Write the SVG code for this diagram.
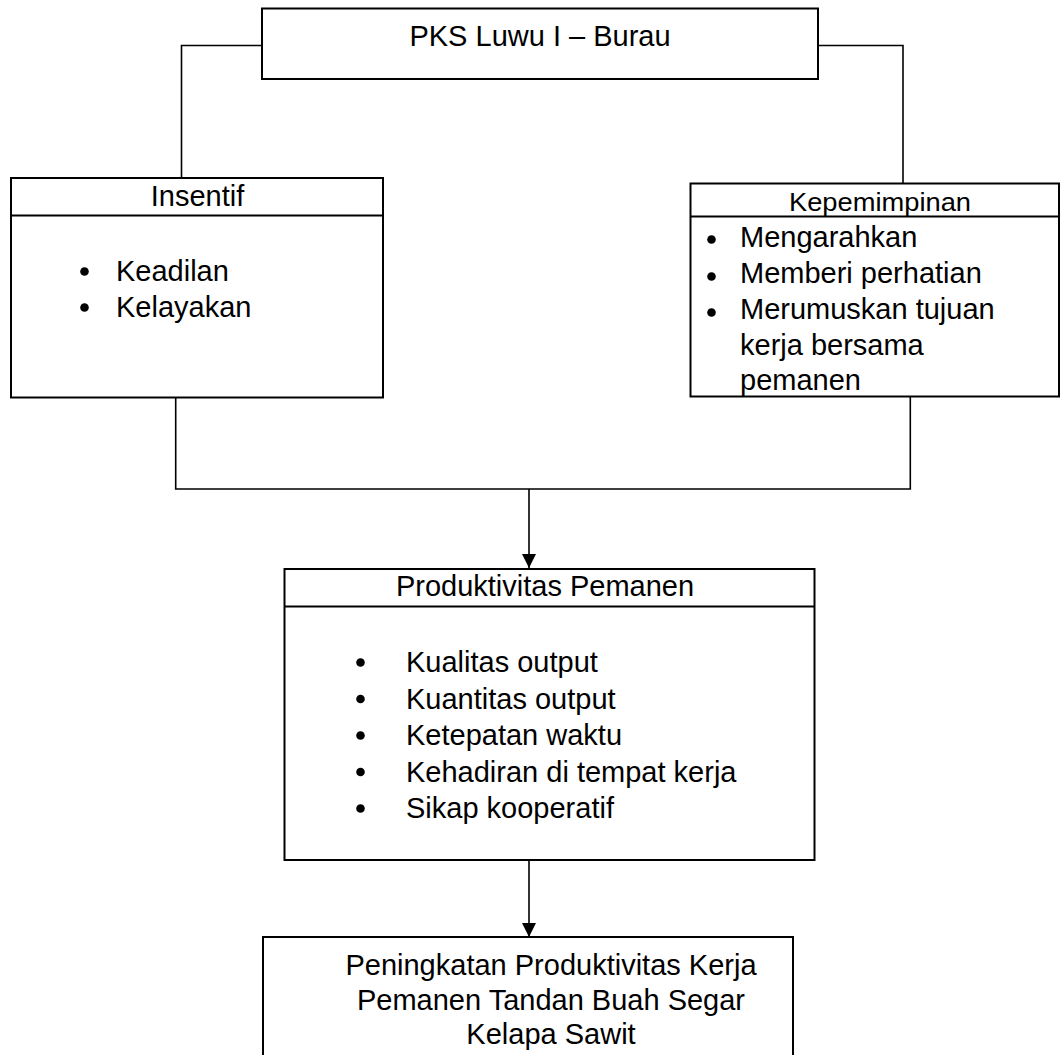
<svg xmlns="http://www.w3.org/2000/svg" width="1061" height="1055" viewBox="0 0 1061 1055">
  <defs>
    <style>
      .box { fill: #ffffff; stroke: #000000; stroke-width: 2; }
      .div { stroke: #000000; stroke-width: 2; fill: none; }
      .conn { stroke: #000000; stroke-width: 1.6; fill: none; }
      .t { font-family: "Liberation Sans", Arial, sans-serif; font-size: 29px; fill: #000000; }
      .c { text-anchor: middle; }
      .b { fill: #000000; }
    </style>
    <marker id="arrow" markerWidth="14" markerHeight="14" refX="14" refY="7" orient="auto" markerUnits="userSpaceOnUse">
      <path d="M0,0 L14,7 L0,14 Z" fill="#000000"/>
    </marker>
  </defs>
  <rect width="1061" height="1055" fill="#ffffff"/>

  <g id="connectors">
    <path class="conn" d="M262,45.5 H181.5 V178"/>
    <path class="conn" d="M818,45.5 H903 V183.5"/>
    <path class="conn" d="M175.7,398 V489 H910.3 V397"/>
    <path class="conn" d="M529,489 V568" marker-end="url(#arrow)"/>
    <path class="conn" d="M529,861 V937" marker-end="url(#arrow)"/>
  </g>

  <g id="node-pks">
    <rect class="box" x="262" y="8.5" width="556" height="70.5"/>
    <text class="t c" x="540" y="46">PKS Luwu I – Burau</text>
  </g>

  <g id="node-insentif">
    <rect class="box" x="11" y="178" width="372" height="219.5"/>
    <line class="div" x1="11" y1="215.5" x2="383" y2="215.5"/>
    <text class="t c" x="197.5" y="205.5">Insentif</text>
    <circle class="b" cx="84.5" cy="271.5" r="4.3"/>
    <text class="t" x="116" y="281">Keadilan</text>
    <circle class="b" cx="84.5" cy="307.5" r="4.3"/>
    <text class="t" x="116" y="316.5">Kelayakan</text>
  </g>

  <g id="node-kepemimpinan">
    <rect class="box" x="690.5" y="183.5" width="368.5" height="213"/>
    <line class="div" x1="690.5" y1="216.5" x2="1059" y2="216.5"/>
    <text class="t c" x="880" y="210.5" style="font-size:25.5px" textLength="182" lengthAdjust="spacingAndGlyphs">Kepemimpinan</text>
    <circle class="b" cx="711.5" cy="239.5" r="4.3"/>
    <text class="t" x="740" y="247">Mengarahkan</text>
    <circle class="b" cx="711.5" cy="276.5" r="4.3"/>
    <text class="t" x="740" y="283">Memberi perhatian</text>
    <circle class="b" cx="711.5" cy="312.5" r="4.3"/>
    <text class="t" x="740" y="319">Merumuskan tujuan</text>
    <text class="t" x="740" y="354.5">kerja bersama</text>
    <text class="t" x="740" y="389.5">pemanen</text>
  </g>

  <g id="node-produktivitas">
    <rect class="box" x="284.5" y="569" width="530" height="291"/>
    <line class="div" x1="284.5" y1="606.5" x2="814.5" y2="606.5"/>
    <text class="t c" x="545" y="596">Produktivitas Pemanen</text>
    <circle class="b" cx="360.5" cy="662.5" r="4.3"/>
    <text class="t" x="406" y="672">Kualitas output</text>
    <circle class="b" cx="360.5" cy="699" r="4.3"/>
    <text class="t" x="406" y="708.5">Kuantitas output</text>
    <circle class="b" cx="360.5" cy="735.5" r="4.3"/>
    <text class="t" x="406" y="745">Ketepatan waktu</text>
    <circle class="b" cx="360.5" cy="772" r="4.3"/>
    <text class="t" x="406" y="781.5">Kehadiran di tempat kerja</text>
    <circle class="b" cx="360.5" cy="808.5" r="4.3"/>
    <text class="t" x="406" y="818">Sikap kooperatif</text>
  </g>

  <g id="node-peningkatan">
    <rect class="box" x="263" y="937" width="530" height="130"/>
    <text class="t c" x="551" y="975">Peningkatan Produktivitas Kerja</text>
    <text class="t c" x="551" y="1010">Pemanen Tandan Buah Segar</text>
    <text class="t c" x="551" y="1044">Kelapa Sawit</text>
  </g>
</svg>
